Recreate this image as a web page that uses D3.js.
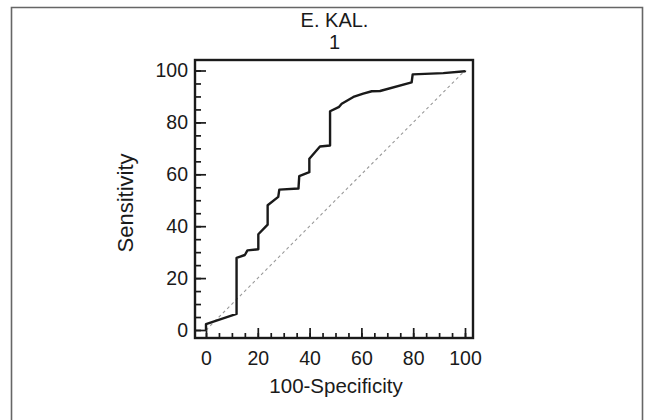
<!DOCTYPE html>
<html>
<head>
<meta charset="utf-8">
<script src="https://cdn.jsdelivr.net/npm/d3@7"></script>
<style>
  html, body { margin: 0; padding: 0; background: #fff; }
  svg { display: block; }
  text { font-family: "Liberation Sans", Arial, sans-serif; fill: #1a1a1a; }
</style>
</head>
<body>
<svg id="chart" width="651" height="420"></svg>
<script>
// ---- data ----
const titleLines = ["E. KAL.", "1"];
const xLabel = "100-Specificity";
const yLabel = "Sensitivity";
const majorTicks = [0, 20, 40, 60, 80, 100];
const minorTicks = [0,5,10,15,20,25,30,35,40,45,50,55,60,65,70,75,80,85,90,95,100];
// ROC curve: 100-Specificity (x) and Sensitivity (y)
const rocX = [0, 0, 11.8, 11.8, 15, 16, 20.2, 20.2, 23.8, 23.8, 27.9, 28.3, 35.7, 36, 39.9, 39.9, 44, 47.9, 47.9, 51.4, 52.4, 56.9, 60.7, 64, 67.2, 79.4, 79.8, 91.6, 100, 100];
const rocY = [0, 2.3, 6.2, 27.8, 28.9, 30.7, 31.1, 36.9, 40.6, 48.1, 51.3, 54.1, 54.5, 59.3, 60.8, 66, 70.7, 71.1, 84.3, 86, 87.2, 89.8, 91.1, 92, 92.1, 95.4, 98.5, 99, 99.7, 100];
const diagonal = [0, 100];

// ---- layout ----
const svg = d3.select("#chart");
const box = { left: 195, right: 473, top: 60, bottom: 338 };
const x = d3.scaleLinear().domain([0, 100]).range([206, 465]);
const y = d3.scaleLinear().domain([0, 100]).range([330, 70.5]);

// outer frame (no bottom edge visible)
svg.append("path")
  .attr("d", "M11.5,421 L11.5,7.5 L642.5,7.5 L642.5,421")
  .attr("fill", "none").attr("stroke", "#666").attr("stroke-width", 1.6);

// title
svg.append("text").attr("x", 334.5).attr("y", 27).attr("text-anchor", "middle")
  .style("font-size", "20px").text(titleLines[0]);
svg.append("text").attr("x", 334.5).attr("y", 48.5).attr("text-anchor", "middle")
  .style("font-size", "20px").text(titleLines[1]);

// axes: minor ticks
const gxMinor = svg.append("g").attr("transform", `translate(0,${box.bottom})`)
  .call(d3.axisBottom(x).tickValues(minorTicks).tickSizeInner(-5).tickSizeOuter(0).tickFormat(""));
const gyMinor = svg.append("g").attr("transform", `translate(${box.left},0)`)
  .call(d3.axisLeft(y).tickValues(minorTicks).tickSizeInner(-6).tickSizeOuter(0).tickFormat(""));
// major ticks with labels
const gx = svg.append("g").attr("transform", `translate(0,${box.bottom})`)
  .call(d3.axisBottom(x).tickValues(majorTicks).tickSizeInner(-10).tickSizeOuter(0).tickPadding(13).tickFormat(d3.format("d")));
const gy = svg.append("g").attr("transform", `translate(${box.left},0)`)
  .call(d3.axisLeft(y).tickValues(majorTicks).tickSizeInner(-11).tickSizeOuter(0).tickPadding(7).tickFormat(d3.format("d")));

[gxMinor, gyMinor, gx, gy].forEach(g => {
  g.select(".domain").remove();
  g.selectAll("line").attr("stroke", "#1a1a1a").attr("stroke-width", 1.7);
  g.selectAll("text").style("font-size", "19.5px").attr("fill", "#1a1a1a")
    .style("font-family", '"Liberation Sans", Arial, sans-serif');
});

// diagonal reference line
svg.append("line")
  .attr("x1", x(diagonal[0])).attr("y1", y(diagonal[0]))
  .attr("x2", x(diagonal[1])).attr("y2", y(diagonal[1]))
  .attr("stroke", "#999").attr("stroke-width", 1.1).attr("stroke-dasharray", "3,3");

// ROC curve
const pts = rocX.map((v, i) => [v, rocY[i]]);
svg.append("path")
  .datum(pts)
  .attr("d", d3.line().x(d => x(d[0])).y(d => y(d[1])))
  .attr("fill", "none").attr("stroke", "#1a1a1a").attr("stroke-width", 2.4)
  .attr("stroke-linejoin", "round");

// plot box
svg.append("rect")
  .attr("x", box.left).attr("y", box.top)
  .attr("width", box.right - box.left).attr("height", box.bottom - box.top)
  .attr("fill", "none").attr("stroke", "#1a1a1a").attr("stroke-width", 2.4);

// axis titles
svg.append("text").attr("x", 336).attr("y", 393).attr("text-anchor", "middle")
  .style("font-size", "20.5px").text(xLabel);
svg.append("text").attr("transform", "translate(133,203) rotate(-90)").attr("text-anchor", "middle")
  .style("font-size", "22px").text(yLabel);
</script>
</body>
</html>
